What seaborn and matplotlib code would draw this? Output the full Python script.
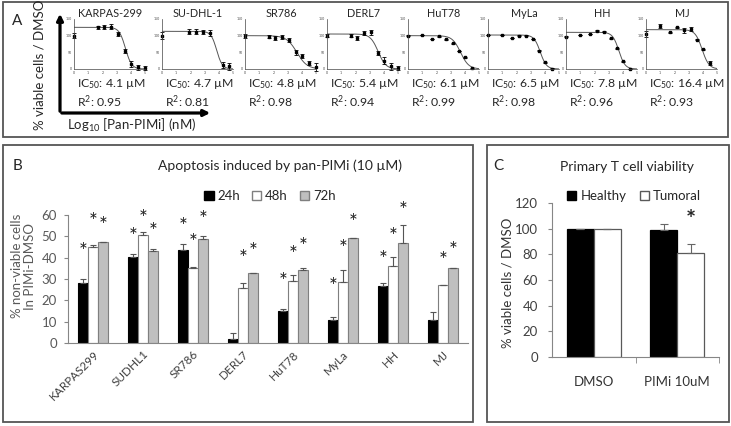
import numpy as np
import pandas as pd
import seaborn as sns
import matplotlib.pyplot as plt
from matplotlib.patches import Rectangle, FancyArrowPatch, Patch

sns.set_style('white')
plt.rcParams['font.family'] = ['Lato', 'DejaVu Sans']
plt.rcParams['mathtext.fontset'] = 'custom'
plt.rcParams['mathtext.rm'] = 'Lato'
plt.rcParams['mathtext.it'] = 'Lato:italic'
plt.rcParams['mathtext.bf'] = 'Lato:bold'

# ---------------- panel A: dose response (log10 nM vs % viable) ----------------
lines_a = ['KARPAS-299', 'SU-DHL-1', 'SR786', 'DERL7', 'HuT78', 'MyLa', 'HH', 'MJ']
ic50_txt = ['4.1', '4.7', '4.8', '5.4', '6.1', '6.5', '7.8', '16.4']
r2_txt = ['0.95', '0.81', '0.98', '0.94', '0.99', '0.98', '0.96', '0.93']

karpas_x = [0, 1.7, 2.1, 2.6, 3.1, 3.6, 4.0, 4.5, 5.0]
karpas_y = [100, 125, 125, 127, 105, 55, 15, 5, 3]
karpas_e = [8, 5, 6, 8, 5, 6, 8, 8, 5]
sudhl_x = [0, 1.9, 2.4, 2.9, 3.4, 4.3, 4.7]
sudhl_y = [100, 112, 112, 110, 108, 12, 8]
sudhl_e = [10, 8, 7, 6, 8, 10, 10]
sr786_x = [0, 1.7, 2.1, 2.6, 3.1, 3.6, 4.0, 4.5, 5.0]
sr786_y = [100, 97, 93, 97, 87, 50, 38, 18, 5]
sr786_e = [6, 5, 6, 6, 6, 8, 6, 6, 12]
derl7_x = [0, 1.7, 2.1, 2.6, 3.1, 3.6, 4.0, 4.5, 5.0]
derl7_y = [100, 100, 93, 107, 110, 48, 25, 8, 3]
derl7_e = [5, 4, 6, 6, 8, 5, 10, 10, 5]
hut78_x = [0, 1, 1.7, 2.2, 2.7, 3.2, 3.6, 4.0, 4.5]
hut78_y = [100, 102, 90, 98, 89, 77, 54, 35, 2]
hut78_e = [1, 1, 1, 1, 1, 1, 1, 1, 1]
myla_x = [0, 1, 1.7, 2.2, 2.7, 3.2, 3.6, 4.0, 4.5]
myla_y = [102, 102, 93, 100, 100, 90, 55, 20, 1]
myla_e = [1, 1, 1, 1, 1, 1, 1, 1, 1]
hh_x = [0, 1, 1.7, 2.2, 2.7, 3.2, 3.6, 4.0, 4.5]
hh_y = [97, 102, 105, 115, 112, 92, 62, 23, 0]
hh_e = [1, 1, 1, 1, 1, 1, 1, 1, 1]
mj_x = [0, 1, 1.7, 2.2, 2.7, 3.2, 3.6, 4.0, 4.5]
mj_y = [105, 130, 110, 125, 116, 120, 88, 59, 18]
mj_e = [8, 6, 2, 2, 8, 5, 2, 2, 5]

# fitted curve parameters: top, log midpoint, hill slope
fit_top = [125, 113, 100, 105, 100, 102, 110, 118]
fit_mid = [3.62, 3.85, 3.65, 3.6, 3.7, 3.68, 3.72, 3.95]
fit_hill = [2.0, 2.2, 1.2, 1.6, 1.5, 2.0, 2.0, 1.8]

# ---------------- panel B: apoptosis ----------------
lines_b = ['KARPAS299', 'SUDHL1', 'SR786', 'DERL7', 'HuT78', 'MyLa', 'HH', 'MJ']
times = ['24h', '48h', '72h']
apo_24 = [28, 40.4, 43.6, 2, 15, 10.8, 26.6, 10.7]
apo_48 = [45.1, 50.6, 35.3, 25.9, 29.2, 28.8, 36, 27.1]
apo_72 = [47.2, 43.1, 48.6, 32.6, 34, 49.1, 46.7, 35.1]
err_24 = [1.9, 1.1, 2.6, 2.5, 1.1, 1.6, 1.3, 3.6]
err_48 = [0.8, 1.3, 0.1, 2, 2.5, 5.6, 4.5, 0.3]
err_72 = [0.2, 0.9, 1.7, 0, 1, 0, 8.5, 0]
# star heights (NaN = no star)
star_24 = [42.5, 49.5, 54.5, np.nan, 28.4, 26.3, 38.9, np.nan]
star_48 = [56.9, 58, 46.7, 39.2, 41.2, 43.9, 49.5, 38.4]
star_72 = [54.9, 52.2, 57.7, 42.8, 44.8, 56.1, 61.9, 43.3]

# ---------------- panel C: primary T cells ----------------
conds = ['DMSO', 'PIMi 10uM']
groups = ['Healthy', 'Tumoral']
healthy = [100, 98.7]
tumoral = [100, 81.3]
healthy_err = [0, 4.7]
tumoral_err = [0, 6.5]

W, H = 731, 426
fig = plt.figure(figsize=(W / 100, H / 100), dpi=100)


def rect(x0, y0, x1, y1):
    return [x0 / W, 1 - y1 / H, (x1 - x0) / W, (y1 - y0) / H]


def fx(x):
    return x / W


def fy(y):
    return 1 - y / H


# panel frames
for x0, y0, x1, y1 in [(3, 2, 728, 137), (3, 145, 473, 422), (487, 145, 729, 422)]:
    fig.add_artist(Rectangle((fx(x0), fy(y1)), (x1 - x0) / W, (y1 - y0) / H,
                             transform=fig.transFigure, fill=False,
                             ec='#555555', lw=1.3))

# ---------------- A ----------------
fig.text(fx(12), fy(25), 'A', fontsize=11, va='baseline')
fig.text(fx(40), fy(65), '% viable cells / DMSO', rotation=90, ha='center',
         va='center', fontsize=9.5)
fig.text(fx(67), fy(129.5), 'Log$_{10}$ [Pan-PIMi] (nM)', va='baseline', fontsize=9.5)
fig.add_artist(FancyArrowPatch((fx(60), fy(114)), (fx(60), fy(11)),
                               transform=fig.transFigure, arrowstyle='-|>',
                               mutation_scale=9, lw=2.3, color='black'))
fig.add_artist(FancyArrowPatch((fx(59), fy(113)), (fx(213), fy(113)),
                               transform=fig.transFigure, arrowstyle='-|>',
                               mutation_scale=9, lw=2.3, color='black'))

a_left = [74, 162, 245, 327, 408, 488, 566, 646]
a_x = [karpas_x, sudhl_x, sr786_x, derl7_x, hut78_x, myla_x, hh_x, mj_x]
a_y = [karpas_y, sudhl_y, sr786_y, derl7_y, hut78_y, myla_y, hh_y, mj_y]
a_e = [karpas_e, sudhl_e, sr786_e, derl7_e, hut78_e, myla_e, hh_e, mj_e]

for i, name in enumerate(lines_a):
    left = a_left[i]
    ax = fig.add_axes(rect(left, 19, left + 71, 69))
    xf = np.linspace(0, 5, 150)
    yf = fit_top[i] / (1 + 10 ** (fit_hill[i] * (xf - fit_mid[i])))
    sns.lineplot(x=xf, y=yf, ax=ax, color='#555555', lw=0.7)
    ax.errorbar(a_x[i], a_y[i], yerr=a_e[i], fmt='s', ms=1.6, color='black',
                elinewidth=0.6, capsize=1.2, capthick=0.6, clip_on=False)
    ax.set_xlim(0, 5)
    ax.set_ylim(0, 150)
    ax.set_xticks(range(6))
    ax.set_yticks([0, 50, 100, 150])
    ax.tick_params(labelsize=2.5, length=1, width=0.4, pad=0.5, colors='#444444')
    for s in ['left', 'bottom']:
        ax.spines[s].set_linewidth(0.5)
        ax.spines[s].set_color('#444444')
    sns.despine(ax=ax)
    fig.text(fx(left + 36), fy(17), name, ha='center', va='baseline', fontsize=7.8)
    # IC50 and R2 as one two-line text
    fig.text(fx(left + 3), fy(77), 'IC$_{50}$: ' + ic50_txt[i] + ' µM\nR$^{2}$: ' + r2_txt[i],
             va='top', ha='left', fontsize=8.8, linespacing=1.15)

# ---------------- B ----------------
fig.text(fx(13), fy(170.5), 'B', fontsize=11, va='baseline')
fig.text(fx(280), fy(170.5), 'Apoptosis induced by pan-PIMi (10 µM)', ha='center',
         va='baseline', fontsize=10)

df_b = pd.DataFrame({
    'line': lines_b * 3,
    'time': np.repeat(times, len(lines_b)),
    'pct': apo_24 + apo_48 + apo_72,
})
axb = fig.add_axes(rect(68, 215, 468, 343))
sns.barplot(data=df_b, x='line', y='pct', hue='time', order=lines_b, hue_order=times,
            palette=['black', 'white', '#bfbfbf'], width=0.6, gap=0, errorbar=None,
            edgecolor='#7f7f7f', linewidth=0.8, legend=False, ax=axb)
for cont, errs, stars in zip(axb.containers, [err_24, err_48, err_72],
                             [star_24, star_48, star_72]):
    xs = [p.get_x() + p.get_width() / 2 for p in cont]
    hs = [p.get_height() for p in cont]
    axb.errorbar(xs, hs, yerr=[np.zeros(len(errs)), errs], fmt='none',
                 ecolor='#555555', elinewidth=0.8, capsize=2.5, capthick=0.8)
    for xv, sv in zip(xs, stars):
        if not np.isnan(sv):
            axb.text(xv, sv, '*', ha='center', va='center', fontsize=15,
                     color='#222222')
for p in axb.containers[0]:
    p.set_edgecolor('black')
axb.set_xlim(-0.5, 7.5)
axb.set_ylim(0, 60)
axb.set_yticks(range(0, 61, 10))
axb.set_xlabel('')
axb.set_ylabel('')
axb.tick_params(axis='y', labelsize=9.5, labelcolor='#595959', length=3,
                color='#868686', direction='out', left=True, pad=5)
axb.tick_params(axis='x', labelsize=8.5, labelcolor='#404040', length=0, pad=4)
plt.setp(axb.get_xticklabels(), rotation=45, ha='right', rotation_mode='anchor')
for s in ['left', 'bottom']:
    axb.spines[s].set_color('#868686')
    axb.spines[s].set_linewidth(0.8)
sns.despine(ax=axb)
fig.text(fx(23.5), fy(266), '% non-viable cells\nIn PIMi-DMSO', rotation=90,
         ha='center', va='center', fontsize=9.5, color='#595959',
         multialignment='center', linespacing=1.1)
hb = [Patch(fc='black', ec='black'), Patch(fc='white', ec='#7f7f7f'),
      Patch(fc='#bfbfbf', ec='#7f7f7f')]
fig.legend(hb, times, loc='center', bbox_to_anchor=(fx(270), fy(196)), ncol=3,
           frameon=False, fontsize=9.5, handlelength=0.7, handleheight=0.7,
           handletextpad=0.3, columnspacing=0.9, borderaxespad=0)

# ---------------- C ----------------
fig.text(fx(493), fy(170.5), 'C', fontsize=11, va='baseline')
fig.text(fx(627), fy(171), 'Primary T cell viability', ha='center', va='baseline',
         fontsize=10)
df_c = pd.DataFrame({
    'cond': conds * 2,
    'group': np.repeat(groups, len(conds)),
    'val': healthy + tumoral,
})
axc = fig.add_axes(rect(552, 203, 719, 357))
sns.barplot(data=df_c, x='cond', y='val', hue='group', order=conds, hue_order=groups,
            palette=['black', 'white'], width=0.65, gap=0, errorbar=None,
            edgecolor='#595959', linewidth=0.9, legend=False, ax=axc)
for cont, errs in zip(axc.containers, [healthy_err, tumoral_err]):
    xs = [p.get_x() + p.get_width() / 2 for p in cont]
    hs = [p.get_height() for p in cont]
    axc.errorbar(xs, hs, yerr=[np.zeros(len(errs)), errs], fmt='none',
                 ecolor='#666666', elinewidth=0.8, capsize=3, capthick=0.8)
for p in axc.containers[0]:
    p.set_edgecolor('black')
tum_bar = axc.containers[1][1]
axc.text(tum_bar.get_x() + tum_bar.get_width() / 2, 106.5, '*', ha='center',
         va='center', fontsize=17, fontweight='bold')
axc.set_xlim(-0.5, 1.5)
axc.set_ylim(0, 120)
axc.set_yticks(range(0, 121, 20))
axc.set_xticks([0.5, 1.5], minor=True)
axc.set_xlabel('')
axc.set_ylabel('')
axc.tick_params(axis='y', labelsize=9.5, labelcolor='#404040', length=3,
                color='#868686', direction='out', left=True, pad=7)
axc.tick_params(axis='x', which='major', labelsize=9.5, labelcolor='#333333',
                length=0, pad=14)
axc.tick_params(axis='x', which='minor', length=4, color='#868686', direction='out',
                bottom=True)
for s in ['left', 'bottom']:
    axc.spines[s].set_color('#868686')
    axc.spines[s].set_linewidth(0.8)
sns.despine(ax=axc)
fig.text(fx(507), fy(283), '% viable cells / DMSO', rotation=90, ha='center',
         va='center', fontsize=9.5, color='#333333')
hc = [Patch(fc='black', ec='black'), Patch(fc='white', ec='#595959')]
fig.legend(hc, groups, loc='center', bbox_to_anchor=(fx(634), fy(196)), ncol=2,
           frameon=False, fontsize=9.5, handlelength=0.7, handleheight=0.7,
           handletextpad=0.3, columnspacing=1.0, borderaxespad=0)

fig.savefig('out.png', dpi=100)
